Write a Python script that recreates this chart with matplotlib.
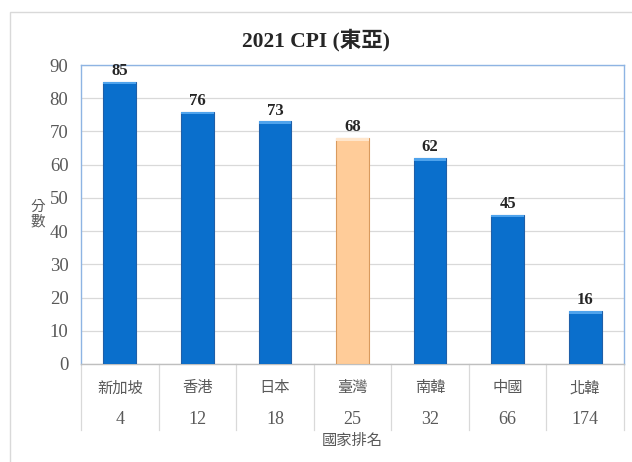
import matplotlib.pyplot as plt
from matplotlib.patches import Rectangle
from matplotlib.lines import Line2D

# datos
countries = ["新加坡", "香港", "日本", "臺灣", "南韓", "中國", "北韓"]
ranks = ["4", "12", "18", "25", "32", "66", "174"]
scores = [85, 76, 73, 68, 62, 45, 16]
highlight = "臺灣"

W, H = 632, 462
fig = plt.figure(figsize=(W / 100, H / 100), dpi=100)

serif = ["Liberation Serif", "Noto Sans CJK TC"]
cjk = ["Noto Sans CJK TC", "DejaVu Sans"]
gray = "#595959"

# marco exterior del gráfico
fig.patches.append(Rectangle((10 / W, -0.01), 1.0, (462 - 12) / H + 0.01, transform=fig.transFigure,
                             fill=False, edgecolor="#d9d9d9", linewidth=1.0))

left, right, top, bottom = 81, 624, 65, 364
ax = fig.add_axes([left / W, (H - bottom) / H, (right - left) / W, (bottom - top) / H])

x = range(len(countries))
colors = ["#FFCC99" if c == highlight else "#0A6FCC" for c in countries]
edges = ["#D99A5E" if c == highlight else "#1F5FA8" for c in countries]
bars = ax.bar(x, scores, width=0.42, color=colors, edgecolor=edges, linewidth=0.8, zorder=3)

# brillo superior de las barras
for b, c in zip(bars, countries):
    top_col = "#FFE6CC" if c == highlight else "#4FA3EC"
    ax.add_patch(Rectangle((b.get_x(), b.get_height() - 0.8), b.get_width(), 0.8,
                           color=top_col, zorder=4, linewidth=0))

for xi, s in zip(x, scores):
    ax.text(xi, s + 0.8, str(s), ha="center", va="bottom", fontsize=12, fontweight="bold",
            family=serif, color="#262626", zorder=5)

ax.set_xlim(-0.5, len(countries) - 0.5)
ax.set_ylim(0, 90)
ax.set_yticks(range(0, 91, 10))
ax.tick_params(axis="y", length=0, labelsize=13.5, labelcolor=gray, pad=9)
for lab in ax.get_yticklabels():
    lab.set_family(serif)
ax.set_xticks([])
ax.grid(axis="y", color="#d9d9d9", linewidth=0.9, zorder=0)
for sp in ax.spines.values():
    sp.set_color("#8EB4E3")
    sp.set_linewidth(1.0)
ax.spines["bottom"].set_color("#bfbfbf")

# tabla de categorías bajo el eje
trans = ax.get_xaxis_transform()
for xi, c, r in zip(x, countries, ranks):
    ax.text(xi, -0.08, c, transform=trans, ha="center", va="center", fontsize=11,
            family=cjk, color=gray)
    ax.text(xi, -0.187, r, transform=trans, ha="center", va="center", fontsize=13,
            family=serif, color=gray)
for i in range(len(countries) + 1):
    ax.add_line(Line2D([i - 0.5, i - 0.5], [0, -0.22], transform=trans,
                       color="#d9d9d9", linewidth=0.9, clip_on=False))

ax.text(0.5, -0.255, "國家排名", transform=ax.transAxes, ha="center", va="center",
        fontsize=11, family=cjk, color=gray)
fig.text(38 / W, 1 - 214 / H, "分\n數", ha="center", va="center", fontsize=10.5,
         family=cjk, color=gray, linespacing=1.0)

fig.text(316 / W, 1 - 40 / H, "2021 CPI (東亞)", ha="center", va="center",
         fontsize=15.5, fontweight="bold", family=serif, color="#262626")

fig.savefig("out.png", dpi=100)
